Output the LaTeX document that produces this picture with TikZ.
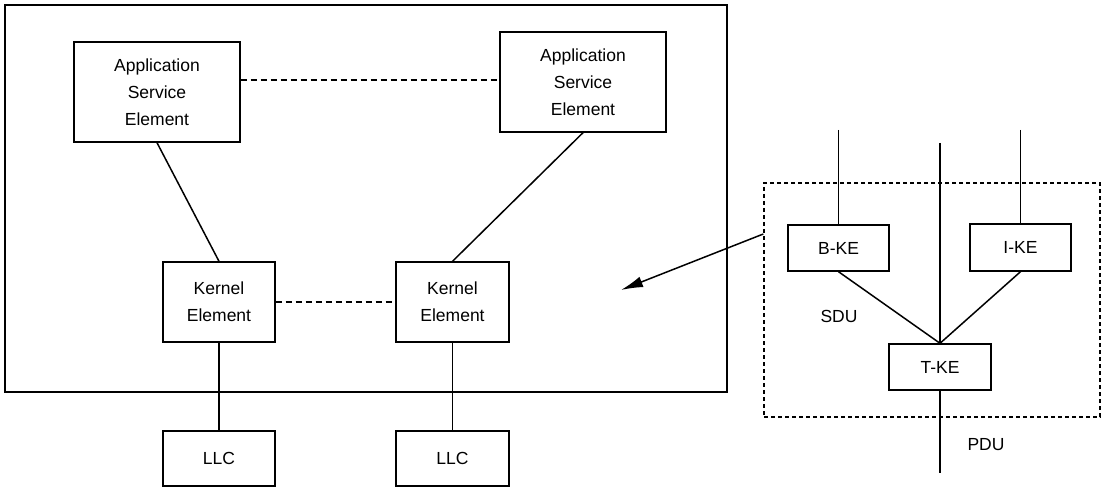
\documentclass[tikz,border=0pt]{standalone}
\usepackage{fontspec}
\setmainfont{Liberation Sans}
\usetikzlibrary{arrows.meta}
\begin{document}
\begin{tikzpicture}[x=1pt,y=-1pt,
  every node/.style={font=\fontsize{17.5}{27}\selectfont},
  box/.style={draw, line width=1.4pt, fill=white, align=center, inner sep=0pt},
  conn/.style={line width=1.5pt},
  dconn/.style={line width=1.4pt, dash pattern=on 6pt off 4pt},
  dbox/.style={line width=1.4pt, dash pattern=on 4pt off 3pt}]
\useasboundingbox (0,0) rectangle (1102,489);
% outer frame
\draw[line width=1.4pt] (5,5) rectangle (727,392);
% nodes
\node[box, minimum width=166pt, minimum height=100pt] (aseL) at (157,92) {Application\\Service\\Element};
\node[box, minimum width=166pt, minimum height=100pt] (aseR) at (583,82) {Application\\Service\\Element};
\node[box, minimum width=112pt, minimum height=80pt] (keL) at (219,302) {Kernel\\Element};
\node[box, minimum width=113pt, minimum height=80pt] (keR) at (452.5,302) {Kernel\\Element};
\node[box, minimum width=112pt, minimum height=55pt] (llcL) at (219,458.5) {LLC};
\node[box, minimum width=113pt, minimum height=55pt] (llcR) at (452.5,458.5) {LLC};
% connectors left part
\coordinate (y80) at (0,80);
\draw[dconn] (aseL.east |- y80) -- (aseR.west |- y80);
\draw[conn] (aseL.south) -- (keL.north);
\draw[conn] (aseR.south) -- (keR.north);
\draw[dconn] (keL.east) -- (keR.west);
\draw[conn] (keL.south) -- (llcL.north);
\draw[conn] (keR.south) -- (llcR.north);
% right group
\node[dbox, draw, minimum width=336pt, minimum height=234pt, inner sep=0pt] (grp) at (932,300) {};
\node[box, minimum width=101pt, minimum height=46pt] (bke) at (838.5,248) {B-KE};
\node[box, minimum width=101pt, minimum height=47pt] (ike) at (1020.5,247.5) {I-KE};
\node[box, minimum width=102pt, minimum height=46pt] (tke) at (940,367) {T-KE};
\coordinate (bTop) at (838.5,130);
\coordinate (iTop) at (1020.5,130);
\coordinate (tTop) at (940,143);
\coordinate (tBot) at (940,473);
\draw[conn] (bTop) -- (bke.north);
\draw[conn] (iTop) -- (ike.north);
\draw[conn] (tTop) -- (tke.north);
\draw[conn] (tke.south) -- (tBot);
\draw[conn] (bke.south) -- (tke.north);
\draw[conn] (ike.south) -- (tke.north);
\node (sdu) at (839,316) {SDU};
\node (pdu) at (986,445) {PDU};
\coordinate (arrEnd) at (621,290);
\draw[conn, -{Latex[length=22pt,width=11pt]}] (grp.west |- 0,234) -- (arrEnd);
\end{tikzpicture}
\end{document}
